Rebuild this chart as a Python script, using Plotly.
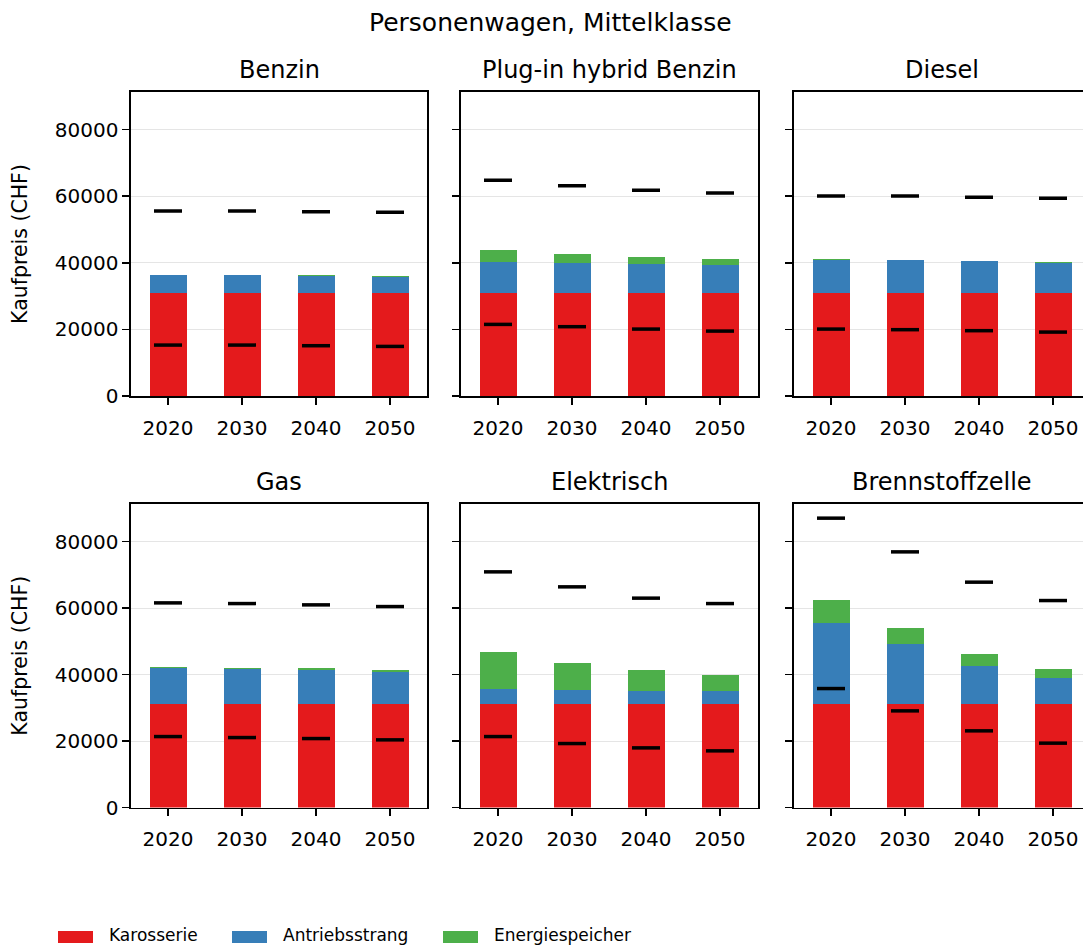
import plotly.graph_objects as go

years = ["2020", "2030", "2040", "2050"]
antriebe = ["Benzin", "Plug-in hybrid Benzin", "Diesel", "Gas", "Elektrisch", "Brennstoffzelle"]

karosserie = {
    "Benzin": [31100, 31100, 31100, 31100],
    "Plug-in hybrid Benzin": [31100, 31100, 31100, 31100],
    "Diesel": [31100, 31100, 31100, 31100],
    "Gas": [31100, 31100, 31100, 31100],
    "Elektrisch": [31100, 31100, 31100, 31100],
    "Brennstoffzelle": [31100, 31100, 31100, 31100],
}
antriebsstrang = {
    "Benzin": [5400, 5250, 5040, 4750],
    "Plug-in hybrid Benzin": [9260, 8960, 8660, 8360],
    "Diesel": [9850, 9640, 9340, 8950],
    "Gas": [10910, 10520, 10310, 9800],
    "Elektrisch": [4600, 4210, 4090, 4000],
    "Brennstoffzelle": [24450, 18130, 11610, 7910],
}
energiespeicher = {
    "Benzin": [0, 150, 150, 150],
    "Plug-in hybrid Benzin": [3600, 2700, 2100, 1590],
    "Diesel": [150, 150, 150, 150],
    "Gas": [400, 500, 500, 500],
    "Elektrisch": [11130, 8300, 6130, 4900],
    "Brennstoffzelle": [6830, 4720, 3610, 2610],
}
preis_hoch = {
    "Benzin": [55560, 55560, 55370, 55170],
    "Plug-in hybrid Benzin": [64770, 63180, 61770, 60960],
    "Diesel": [60060, 60060, 59670, 59370],
    "Gas": [61560, 61350, 60960, 60450],
    "Elektrisch": [70890, 66380, 62980, 61350],
    "Brennstoffzelle": [87040, 76900, 67790, 62260],
}
preis_tief = {
    "Benzin": [15320, 15320, 15130, 14920],
    "Plug-in hybrid Benzin": [21530, 20840, 20120, 19520],
    "Diesel": [20120, 19940, 19640, 19220],
    "Gas": [21350, 21050, 20750, 20360],
    "Elektrisch": [21350, 19250, 17950, 17050],
    "Brennstoffzelle": [35790, 29080, 23070, 19370],
}

komponenten = ["Karosserie", "Antriebsstrang", "Energiespeicher"]
farben = ["#e41a1c", "#377eb8", "#4daf4a"]
y_ticks = [0, 20000, 40000, 60000, 80000]

W = 1083
REF_H = 947          # reference layout height used for fractional positions
H = 960              # figure height
FONT = "DejaVu Sans"

col_px = [(131, 427), (461, 758), (794, 1083)]
row_px = [(91.7, 395.7), (503.3, 806.7)]
unit_px = 296 / 4.0


def fy(ref_y):
    return 1 - ref_y / REF_H


fig = go.Figure()
layout = {}
annotations = []

for i, name in enumerate(antriebe):
    r, c = divmod(i, 3)
    idx = i + 1
    xa = "x" if idx == 1 else f"x{idx}"
    ya = "y" if idx == 1 else f"y{idx}"
    x0, x1 = col_px[c]
    ytop, ybot = row_px[r]
    xmax = -0.5 + (x1 - x0) / unit_px

    for comp, farbe, data in zip(komponenten, farben, [karosserie, antriebsstrang, energiespeicher]):
        fig.add_trace(go.Bar(
            x=years, y=data[name], name=comp, marker=dict(color=farbe, line=dict(width=0)),
            xaxis=xa, yaxis=ya, showlegend=False, offsetgroup="a",
        ))
    for data in (preis_hoch, preis_tief):
        fig.add_trace(go.Scatter(
            x=years, y=data[name], mode="markers", xaxis=xa, yaxis=ya, showlegend=False,
            marker=dict(symbol="line-ew", size=20, color="black", line=dict(width=3.5, color="black")),
        ))

    layout["xaxis" if idx == 1 else f"xaxis{idx}"] = dict(
        domain=[x0 / W, x1 / W], anchor=ya, type="category",
        range=[-0.5, xmax], showgrid=False, showline=True, linecolor="black", linewidth=1.6,
        mirror=True, ticks="outside", ticklen=7, tickwidth=1.6, tickcolor="black",
        ticklabelstandoff=6,
        tickfont=dict(family=FONT, size=20, color="black"), zeroline=False, fixedrange=True,
    )
    layout["yaxis" if idx == 1 else f"yaxis{idx}"] = dict(
        domain=[fy(ybot), fy(ytop)], anchor=xa, range=[0, 91350],
        tickvals=y_ticks, tickformat="d", showticklabels=(c == 0),
        showgrid=True, gridcolor="#e5e5e5", gridwidth=1,
        showline=True, linecolor="black", linewidth=1.6, mirror=(c != 2),
        ticks="outside", ticklen=7, tickwidth=1.6, tickcolor="black",
        tickfont=dict(family=FONT, size=20, color="black"), zeroline=False, fixedrange=True,
    )
    annotations.append(dict(
        text=name, x=(x0 + (x0 + 296)) / 2 / W, y=fy(ytop - 22), xref="paper", yref="paper",
        showarrow=False, xanchor="center", yanchor="middle", font=dict(family=FONT, size=24, color="black"),
    ))
    if c == 0:
        annotations.append(dict(
            text="Kaufpreis (CHF)", x=20 / W, y=fy((ytop + ybot) / 2), xref="paper", yref="paper",
            showarrow=False, textangle=-90, xanchor="center", yanchor="middle",
            font=dict(family=FONT, size=20.5, color="black"),
        ))

annotations.append(dict(
    text="Personenwagen, Mittelklasse", x=550 / W, y=fy(22), xref="paper", yref="paper",
    showarrow=False, xanchor="center", yanchor="middle", font=dict(family=FONT, size=25, color="black"),
))

# legend (matplotlib-style wide patches)
shapes = []
leg_items = [(58, 107), (232, 281), (443, 492)]
for (px, tx), comp, farbe in zip(leg_items, komponenten, farben):
    shapes.append(dict(type="rect", xref="paper", yref="paper", x0=px / W, x1=(px + 35) / W,
                       y0=fy(942), y1=fy(930), fillcolor=farbe, line=dict(width=0)))
    annotations.append(dict(
        text=comp, x=tx / W, y=fy(934), xref="paper", yref="paper", showarrow=False,
        xanchor="left", yanchor="middle", font=dict(family=FONT, size=17, color="black"),
    ))

fig.update_layout(
    width=W, height=H, autosize=False, margin=dict(l=0, r=0, t=0, b=0),
    paper_bgcolor="white", plot_bgcolor="white", barmode="stack", bargap=0.5,
    showlegend=False, annotations=annotations, shapes=shapes, **layout,
)
fig.write_html(
    "out.html",
    config={"displayModeBar": False, "staticPlot": True},
    post_script=(
        "var b=document.body.style;b.margin='0';b.padding='0';b.overflow='hidden';"
    ),
)
